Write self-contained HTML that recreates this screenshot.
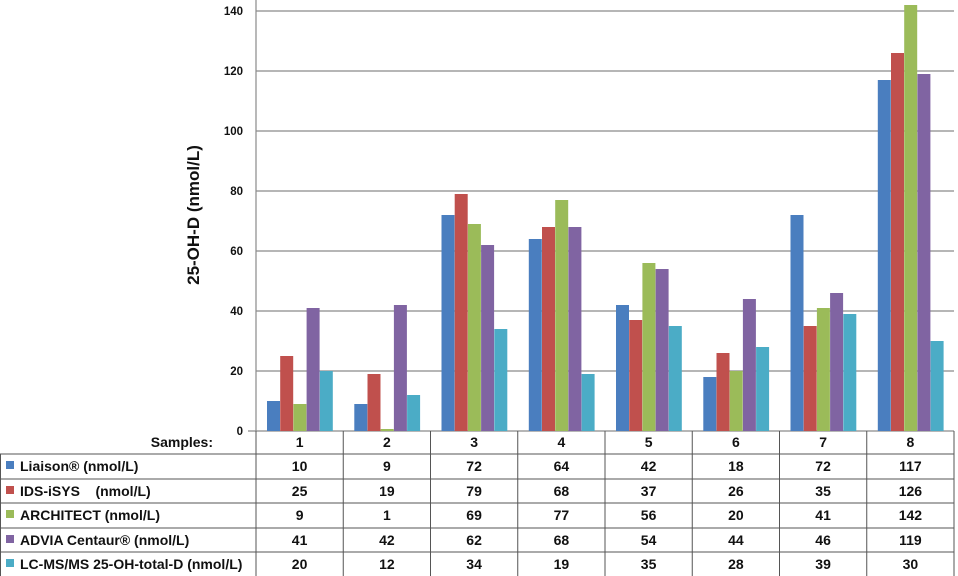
<!DOCTYPE html>
<html><head><meta charset="utf-8"><style>
html,body{margin:0;padding:0;background:#fff;}
svg{display:block;font-family:"Liberation Sans",Arial,sans-serif;font-weight:bold;}
</style></head><body>
<svg width="958" height="576" viewBox="0 0 958 576" xmlns="http://www.w3.org/2000/svg">
<g stroke="#8a8a8a" stroke-width="1.2">
<line x1="256" y1="11" x2="954" y2="11"/>
<line x1="256" y1="71" x2="954" y2="71"/>
<line x1="256" y1="131" x2="954" y2="131"/>
<line x1="256" y1="191" x2="954" y2="191"/>
<line x1="256" y1="251" x2="954" y2="251"/>
<line x1="256" y1="311" x2="954" y2="311"/>
<line x1="256" y1="371" x2="954" y2="371"/>
<line x1="248" y1="431" x2="954" y2="431"/>
<line x1="256" y1="0" x2="256" y2="431"/>
</g>
<g font-size="11.5" text-anchor="end" fill="#111">
<text x="243" y="15">140</text><text x="243" y="75">120</text><text x="243" y="135">100</text>
<text x="243" y="195">80</text><text x="243" y="255">60</text><text x="243" y="315">40</text>
<text x="243" y="375">20</text><text x="243" y="435">0</text>
</g>
<text transform="translate(199,215) rotate(-90)" font-size="17" text-anchor="middle" fill="#111">25-OH-D (nmol/L)</text>
<g fill="#4a7ebf">
<rect x="267" y="401" width="13" height="30"/><rect x="354.3" y="404" width="13" height="27"/><rect x="441.5" y="215" width="13" height="216"/><rect x="528.8" y="239" width="13" height="192"/><rect x="616" y="305" width="13" height="126"/><rect x="703.3" y="377" width="13" height="54"/><rect x="790.5" y="215" width="13" height="216"/><rect x="877.8" y="80" width="13" height="351"/>
</g>
<g fill="#c0504d">
<rect x="280.2" y="356" width="13" height="75"/><rect x="367.5" y="374" width="13" height="57"/><rect x="454.7" y="194" width="13" height="237"/><rect x="542" y="227" width="13" height="204"/><rect x="629.2" y="320" width="13" height="111"/><rect x="716.5" y="353" width="13" height="78"/><rect x="803.7" y="326" width="13" height="105"/><rect x="891" y="53" width="13" height="378"/>
</g>
<g fill="#9bbb59">
<rect x="293.4" y="404" width="13" height="27"/><rect x="380.7" y="429" width="13" height="2"/><rect x="467.9" y="224" width="13" height="207"/><rect x="555.2" y="200" width="13" height="231"/><rect x="642.4" y="263" width="13" height="168"/><rect x="729.7" y="371" width="13" height="60"/><rect x="816.9" y="308" width="13" height="123"/><rect x="904.2" y="5" width="13" height="426"/>
</g>
<g fill="#8064a2">
<rect x="306.6" y="308" width="13" height="123"/><rect x="393.9" y="305" width="13" height="126"/><rect x="481.1" y="245" width="13" height="186"/><rect x="568.4" y="227" width="13" height="204"/><rect x="655.6" y="269" width="13" height="162"/><rect x="742.9" y="299" width="13" height="132"/><rect x="830.1" y="293" width="13" height="138"/><rect x="917.4" y="74" width="13" height="357"/>
</g>
<g fill="#4bacc6">
<rect x="319.8" y="371" width="13" height="60"/><rect x="407.1" y="395" width="13" height="36"/><rect x="494.3" y="329" width="13" height="102"/><rect x="581.6" y="374" width="13" height="57"/><rect x="668.8" y="326" width="13" height="105"/><rect x="756.1" y="347" width="13" height="84"/><rect x="843.3" y="314" width="13" height="117"/><rect x="930.6" y="341" width="13" height="90"/>
</g>
<g stroke="#555" stroke-width="1">
<line x1="0" y1="454" x2="954" y2="454"/>
<line x1="0" y1="479" x2="954" y2="479"/>
<line x1="0" y1="503" x2="954" y2="503"/>
<line x1="0" y1="528" x2="954" y2="528"/>
<line x1="0" y1="552" x2="954" y2="552"/>
<line x1="0.5" y1="454" x2="0.5" y2="576"/>
<line x1="256" y1="431" x2="256" y2="576"/>
<line x1="343.25" y1="431" x2="343.25" y2="576"/>
<line x1="430.5" y1="431" x2="430.5" y2="576"/>
<line x1="517.75" y1="431" x2="517.75" y2="576"/>
<line x1="605" y1="431" x2="605" y2="576"/>
<line x1="692.25" y1="431" x2="692.25" y2="576"/>
<line x1="779.5" y1="431" x2="779.5" y2="576"/>
<line x1="866.75" y1="431" x2="866.75" y2="576"/>
<line x1="954" y1="431" x2="954" y2="576"/>
</g>
<g font-size="14" fill="#111">
<text x="213" y="447" text-anchor="end">Samples:</text>
<rect x="6" y="461" width="8" height="8" fill="#4a7ebf"/><text x="20" y="471">Liaison® (nmol/L)</text>
<rect x="6" y="486" width="8" height="8" fill="#c0504d"/><text x="20" y="496" xml:space="preserve">IDS-iSYS    (nmol/L)</text>
<rect x="6" y="510" width="8" height="8" fill="#9bbb59"/><text x="20" y="520">ARCHITECT (nmol/L)</text>
<rect x="6" y="535" width="8" height="8" fill="#8064a2"/><text x="20" y="545">ADVIA Centaur® (nmol/L)</text>
<rect x="6" y="559" width="8" height="8" fill="#4bacc6"/><text x="20" y="569">LC-MS/MS 25-OH-total-D (nmol/L)</text>
</g>
<g font-size="14" fill="#111" text-anchor="middle">
<text y="447"><tspan x="299.6">1</tspan><tspan x="386.9">2</tspan><tspan x="474.1">3</tspan><tspan x="561.4">4</tspan><tspan x="648.6">5</tspan><tspan x="735.9">6</tspan><tspan x="823.1">7</tspan><tspan x="910.4">8</tspan></text>
<text y="471"><tspan x="299.6">10</tspan><tspan x="386.9">9</tspan><tspan x="474.1">72</tspan><tspan x="561.4">64</tspan><tspan x="648.6">42</tspan><tspan x="735.9">18</tspan><tspan x="823.1">72</tspan><tspan x="910.4">117</tspan></text>
<text y="496"><tspan x="299.6">25</tspan><tspan x="386.9">19</tspan><tspan x="474.1">79</tspan><tspan x="561.4">68</tspan><tspan x="648.6">37</tspan><tspan x="735.9">26</tspan><tspan x="823.1">35</tspan><tspan x="910.4">126</tspan></text>
<text y="520"><tspan x="299.6">9</tspan><tspan x="386.9">1</tspan><tspan x="474.1">69</tspan><tspan x="561.4">77</tspan><tspan x="648.6">56</tspan><tspan x="735.9">20</tspan><tspan x="823.1">41</tspan><tspan x="910.4">142</tspan></text>
<text y="545"><tspan x="299.6">41</tspan><tspan x="386.9">42</tspan><tspan x="474.1">62</tspan><tspan x="561.4">68</tspan><tspan x="648.6">54</tspan><tspan x="735.9">44</tspan><tspan x="823.1">46</tspan><tspan x="910.4">119</tspan></text>
<text y="569"><tspan x="299.6">20</tspan><tspan x="386.9">12</tspan><tspan x="474.1">34</tspan><tspan x="561.4">19</tspan><tspan x="648.6">35</tspan><tspan x="735.9">28</tspan><tspan x="823.1">39</tspan><tspan x="910.4">30</tspan></text>
</g>
</svg>
</body></html>
